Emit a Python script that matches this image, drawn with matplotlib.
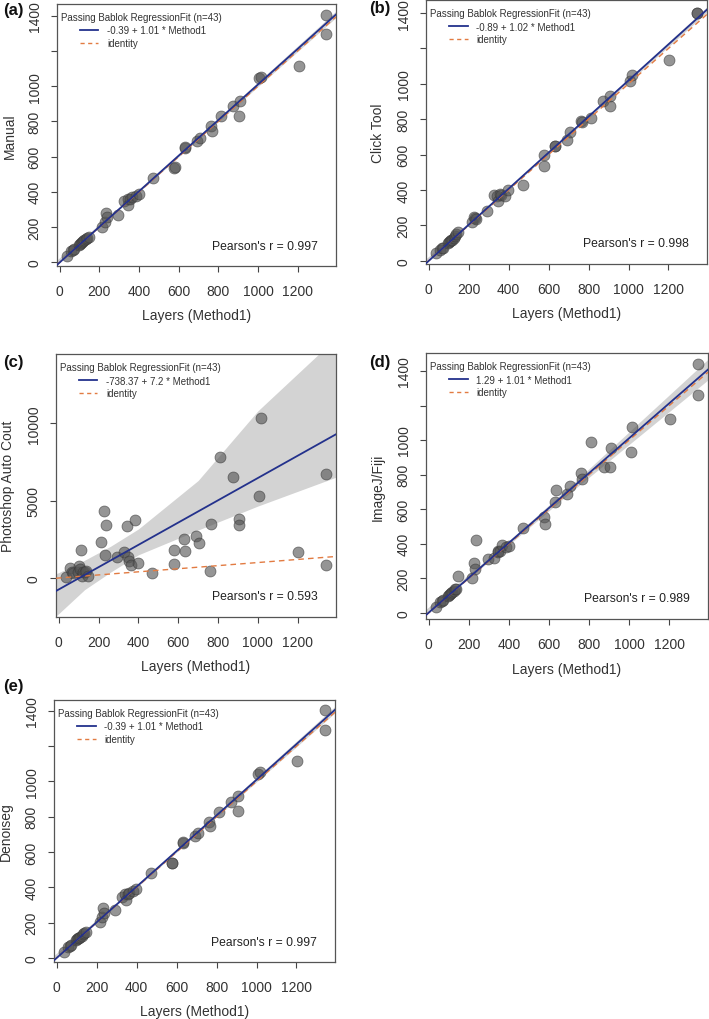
import matplotlib
matplotlib.use("Agg")
import matplotlib.pyplot as plt

plt.rcParams['font.family'] = ['Liberation Sans', 'DejaVu Sans']

# x values shared by every panel (Layers, Method1)
layers = [38, 58, 65, 70, 98, 103, 108, 112, 118, 124, 130, 138, 146,
          214, 226, 231, 236,
          293, 326, 343, 346, 355, 364, 383, 398,
          470, 577, 579, 630, 634, 690, 706, 761, 766, 811, 873, 905, 908,
          1007, 1015, 1204, 1341, 1343]

manual = [34, 62, 68, 75, 100, 105, 110, 113, 120, 125, 132, 140, 145,
          202, 231, 282, 255,
          270, 346, 359, 327, 362, 370, 378, 388,
          479, 537, 540, 649, 655, 690, 707, 772, 748, 829, 885, 832, 918,
          1044, 1054, 1114, 1406, 1294]

click_tool = [43, 62, 70, 74, 102, 108, 109, 115, 118, 126, 140, 150, 160,
              220, 245, 240, 235,
              283, 373, 367, 339, 378, 370, 364, 400,
              430, 533, 595, 650, 648, 684, 725, 788, 783, 805, 903, 872, 933,
              1014, 1051, 1134, 1400, 1402]

photoshop = [60, 625, 370, 300, 410, 800, 580, 1830, 110, 410, 370, 480, 150,
             2300, 4350, 1490, 3450,
             1340, 1660, 3340, 1340, 1080, 860, 3750, 970,
             330, 1810, 880, 2520, 1770, 2690, 2260, 430, 3490, 7840, 6530, 3810, 3430,
             5320, 10320, 1660, 6720, 820]

imagej = [35, 65, 70, 72, 100, 105, 108, 112, 118, 125, 135, 140, 211,
          203, 290, 252, 420,
          310, 320, 358, 350, 355, 391, 380, 387,
          490, 552, 513, 643, 709, 687, 736, 807, 775, 988, 846, 846, 953,
          930, 1073, 1123, 1439, 1263]

denoiseg = [34, 62, 68, 75, 100, 105, 110, 113, 120, 125, 132, 140, 145,
            202, 231, 282, 255,
            270, 346, 359, 327, 362, 370, 378, 388,
            479, 537, 540, 649, 655, 690, 707, 772, 748, 829, 885, 832, 918,
            1044, 1054, 1114, 1406, 1294]

# Passing-Bablok fits
intercepts = [-0.39, -0.89, -738.37, 1.29, -0.39]
slopes = [1.01, 1.02, 7.2, 1.01, 1.01]
pearson = ["0.997", "0.998", "0.593", "0.989", "0.997"]
ylabels = ["Manual", "Click Tool", "Photoshop Auto Cout", "ImageJ/Fiji", "Denoiseg"]
panel_tags = ["(a)", "(b)", "(c)", "(d)", "(e)"]

# confidence bands
band_x = [-20, 350, 700, 1400]
a_lo = [-10, 349, 699, 1396]
a_hi = [8, 358, 717, 1433]
b_lo = [-8, 352, 706, 1412]
b_hi = [5, 360, 720, 1442]
d_lo = [-12, 345, 690, 1355]
d_hi = [15, 366, 728, 1475]
c_band_x = [-20, 0, 130, 260, 400, 700, 1000, 1400]
c_lo = [-2500, -2300, -750, 380, 1500, 3100, 4650, 6550]
c_hi = [250, 350, 1150, 2050, 3170, 6300, 10800, 15600]

W, H = 709, 1020
fig = plt.figure(figsize=(W / 100, H / 100), dpi=100)

# axes boxes in pixels: left, top, right, bottom
boxes = [(57, 5, 336, 267), (426, 1, 707, 265), (56, 355, 336, 618),
         (426, 354, 708, 620), (54, 701, 335, 963)]
ylims = [(-21, 1466), (-19, 1474), (-2520, 14480), (-36, 1504), (-24, 1462)]
tag_pos = [(3, 11), (369, 9), (3, 362), (369, 363), (3, 687)]

ys = [manual, click_tool, photoshop, imagej, denoiseg]
bands = [(band_x, a_lo, a_hi), (band_x, b_lo, b_hi), (c_band_x, c_lo, c_hi),
         (band_x, d_lo, d_hi), (band_x, a_lo, a_hi)]

navy = '#23318C'
orange = '#E27B42'
txt = '#333333'

for i in range(5):
    l, t, r, b = boxes[i]
    ax = fig.add_axes([l / W, 1 - b / H, (r - l) / W, (b - t) / H])
    bx, blo, bhi = bands[i]
    ax.fill_between(bx, blo, bhi, color='#D3D3D3', lw=0, zorder=1)
    ax.scatter(layers, ys[i], s=62, facecolor=(0.33, 0.33, 0.33, 0.62),
               edgecolor=(0.22, 0.22, 0.22, 0.6), linewidth=0.6, zorder=2)
    ax.axline((0, 0), slope=1, color=orange, lw=1.0, ls=(0, (4, 3)), zorder=3)
    ax.axline((0, intercepts[i]), slope=slopes[i], color=navy, lw=1.3, zorder=4)

    ax.set_xlim(-14, 1393)
    ax.set_ylim(*ylims[i])
    ax.set_xticks([0, 200, 400, 600, 800, 1000, 1200])
    if i == 2:
        ax.set_yticks([0, 5000, 10000])
        ax.set_yticklabels(["0", "5000", "10000"], rotation=90, va='center')
    else:
        ax.set_yticks([0, 200, 400, 600, 800, 1000, 1200, 1400])
        ax.set_yticklabels(["0", "200", "400", "600", "800", "1000", "", "1400"],
                           rotation=90, va='center')
    ax.tick_params(length=4, width=0.8, color='#444444', labelsize=10,
                   labelcolor=txt)
    ax.tick_params(axis='x', pad=9)
    ax.tick_params(axis='y', pad=7)
    for sp in ax.spines.values():
        sp.set_color('#555555')
        sp.set_linewidth(0.9)

    ax.set_xlabel("Layers (Method1)", fontsize=10, color=txt)
    ax.xaxis.set_label_coords(0.5, -0.16)
    ax.set_ylabel(ylabels[i], fontsize=10, color=txt)
    ax.yaxis.set_label_coords(-0.145, 0.5)

    # legend block (R style, title flush left, entries indented)
    ax.text(0.014, 0.951, "Passing Bablok RegressionFit (n=43)", transform=ax.transAxes,
            fontsize=7, color=txt, ha='left', va='center')
    fit_label = f"{intercepts[i]} + {slopes[i]} * Method1"
    ax.plot([], [], color=navy, lw=1.3, label=fit_label)
    ax.plot([], [], color=orange, lw=1.0, ls=(0, (3, 2.5)), label="identity")
    ax.legend(loc='upper left', bbox_to_anchor=(0.082, 0.918), frameon=False,
              fontsize=7, borderpad=0, borderaxespad=0, handlelength=1.9,
              handletextpad=0.9, labelspacing=0.25, labelcolor=txt)

    ax.text(0.935, 0.078, f"Pearson's r = {pearson[i]}", transform=ax.transAxes,
            fontsize=8.7, color='#222222', ha='right', va='center')

    tx, ty = tag_pos[i]
    fig.text(tx / W, 1 - ty / H, panel_tags[i], fontsize=12, fontweight='bold',
             ha='left', va='center', color='#111111')

fig.savefig("out.png", dpi=100)
